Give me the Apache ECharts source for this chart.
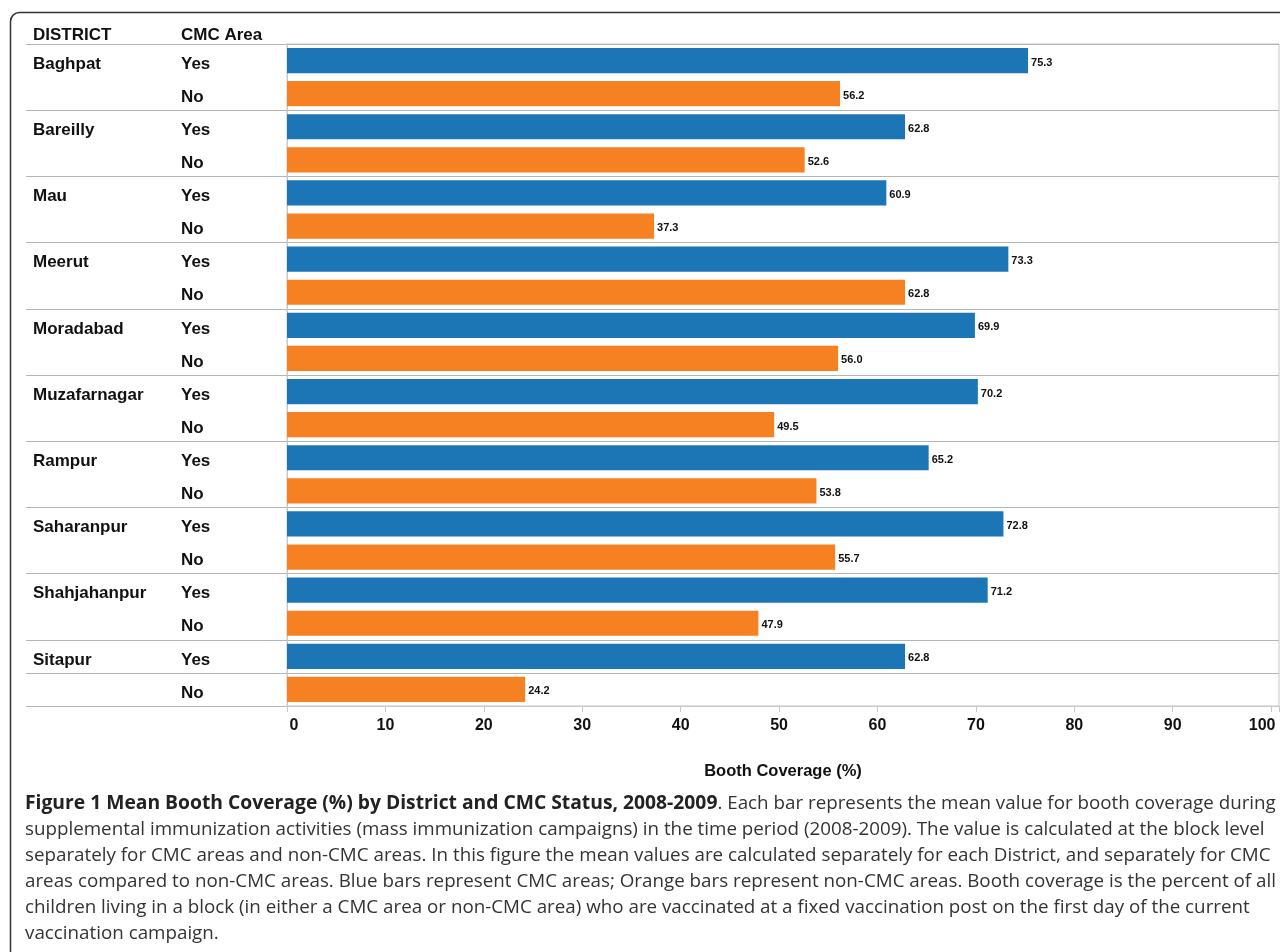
<!DOCTYPE html>
<html><head><meta charset="utf-8">
<script src="https://cdn.jsdelivr.net/npm/echarts@6/dist/echarts.min.js"></script>
<style>html,body{margin:0;padding:0;background:#fff}#c{width:1280px;height:952px}</style>
</head><body><div id="c"></div>
<script>
const districts = ['Baghpat','Bareilly','Mau','Meerut','Moradabad','Muzafarnagar','Rampur','Saharanpur','Shahjahanpur','Sitapur'];
const cmcYes = [75.3, 62.8, 60.9, 73.3, 69.9, 70.2, 65.2, 72.8, 71.2, 62.8];
const cmcNo  = [56.2, 52.6, 37.3, 62.8, 56.0, 49.5, 53.8, 55.7, 47.9, 24.2];
const statusLabels = ['Yes','No'];
const xTicks = [0,10,20,30,40,50,60,70,80,90,100];

const captionBold = 'Figure 1 Mean Booth Coverage (%) by District and CMC Status, 2008-2009';
const captionLines = [
  '. Each bar represents the mean value for booth coverage during',
  'supplemental immunization activities (mass immunization campaigns) in the time period (2008-2009). The value is calculated at the block level',
  'separately for CMC areas and non-CMC areas. In this figure the mean values are calculated separately for each District, and separately for CMC',
  'areas compared to non-CMC areas. Blue bars represent CMC areas; Orange bars represent non-CMC areas. Booth coverage is the percent of all',
  'children living in a block (in either a CMC area or non-CMC area) who are vaccinated at a fixed vaccination post on the first day of the current',
  'vaccination campaign.'
];

const cats = [], yesData = [], noData = [];
districts.forEach((d, i) => {
  cats.push(d + '|' + statusLabels[0]);
  cats.push(d + '|' + statusLabels[1]);
  yesData.push(cmcYes[i]); yesData.push(null);
  noData.push(null); noData.push(cmcNo[i]);
});

const FONT = '"Liberation Sans", Arial, sans-serif';
const CAPFONT = '"Open Sans", sans-serif';
const chart = echarts.init(document.getElementById('c'), null, {renderer: 'canvas'});

const captionGraphics = [];
captionGraphics.push({
  type: 'text', x: 25, y: 804,
  style: {
    text: '{b|' + captionBold + '}{n|' + captionLines[0] + '}',
    verticalAlign: 'middle',
    rich: {
      b: {fontFamily: CAPFONT, fontWeight: 'bold', fontSize: 19.3, fill: '#222'},
      n: {fontFamily: CAPFONT, fontSize: 18.8, fill: '#333'}
    }
  }
});
for (let i = 1; i < captionLines.length; i++) {
  captionGraphics.push({
    type: 'text', x: 25, y: 804 + 26 * i,
    style: {text: captionLines[i], verticalAlign: 'middle', fontFamily: CAPFONT, fontSize: 18.8, fill: '#333'}
  });
}

const labelOpt = {
  show: true, position: 'right', distance: 3, offset: [0, 2],
  fontFamily: FONT, fontWeight: 'bold', fontSize: 11, color: '#111',
  formatter: p => p.value == null ? '' : Number(p.value).toFixed(1)
};

const tickFont = {fontFamily: FONT, fontWeight: 'bold', fontSize: 16, color: '#111'};

chart.setOption({
  animation: false,
  grid: {left: 287, top: 44, right: 1, bottom: 246, show: true, borderColor: '#c8c8c8', borderWidth: 1,
         outerBoundsMode: 'none', containLabel: false},
  xAxis: {
    type: 'value', min: 0, max: 100.8, interval: 10,
    axisLine: {show: true, lineStyle: {color: '#c8c8c8'}},
    axisTick: {show: true, length: 6, lineStyle: {color: '#c8c8c8'}},
    splitLine: {show: false},
    axisLabel: {
      margin: 12, ...tickFont,
      formatter: v => {
        const r = Math.round(v * 10) / 10;
        if (xTicks.indexOf(r) < 0) return '';
        if (r === xTicks[0]) return '{f|' + r + '}';
        if (r === xTicks[xTicks.length - 1]) return '{l|' + r + '}';
        return String(r);
      },
      rich: {
        f: {...tickFont, padding: [0, 0, 0, 14]},
        l: {...tickFont, padding: [0, 18, 0, 0]}
      }
    },
    name: 'Booth Coverage (%)', nameLocation: 'middle', nameGap: 57,
    nameTextStyle: {fontFamily: FONT, fontWeight: 'bold', fontSize: 16.5, color: '#111'}
  },
  yAxis: {
    type: 'category', data: cats, inverse: true,
    axisLine: {show: true, lineStyle: {color: '#c8c8c8'}},
    axisTick: {show: true, interval: 1, length: 261, lineStyle: {color: '#b4b4b4'}},
    splitLine: {show: true, interval: 1, lineStyle: {color: '#b4b4b4'}},
    axisLabel: {
      margin: 254, align: 'left', interval: 0,
      formatter: v => {
        const [d, s] = v.split('|');
        return (s === statusLabels[0] ? '{d|' + d + '}' : '{d|}') + '{c|' + s + '}';
      },
      rich: {
        d: {width: 148, fontFamily: FONT, fontWeight: 'bold', fontSize: 17, color: '#111', padding: [7, 0, 0, 0]},
        c: {fontFamily: FONT, fontWeight: 'bold', fontSize: 17, color: '#111', padding: [7, 0, 0, 0]}
      }
    }
  },
  series: [
    {name: 'CMC', type: 'bar', stack: 's', data: yesData, barCategoryGap: '24%',
     itemStyle: {color: '#1c76b5'}, label: labelOpt},
    {name: 'Non-CMC', type: 'bar', stack: 's', data: noData, barCategoryGap: '24%',
     itemStyle: {color: '#f68122'}, label: labelOpt}
  ],
  graphic: [
    {type: 'rect', shape: {x: 10.5, y: 12.5, width: 1300, height: 1000, r: 9},
     style: {fill: 'none', stroke: '#333', lineWidth: 1.5}, silent: true},
    {type: 'text', x: 33, y: 35, style: {text: 'DISTRICT', verticalAlign: 'middle', fontFamily: FONT, fontWeight: 'bold', fontSize: 17, fill: '#111'}},
    {type: 'text', x: 181, y: 35, style: {text: 'CMC Area', verticalAlign: 'middle', fontFamily: FONT, fontWeight: 'bold', fontSize: 17, fill: '#111'}},
    ...captionGraphics
  ]
});
</script>
</body></html>
